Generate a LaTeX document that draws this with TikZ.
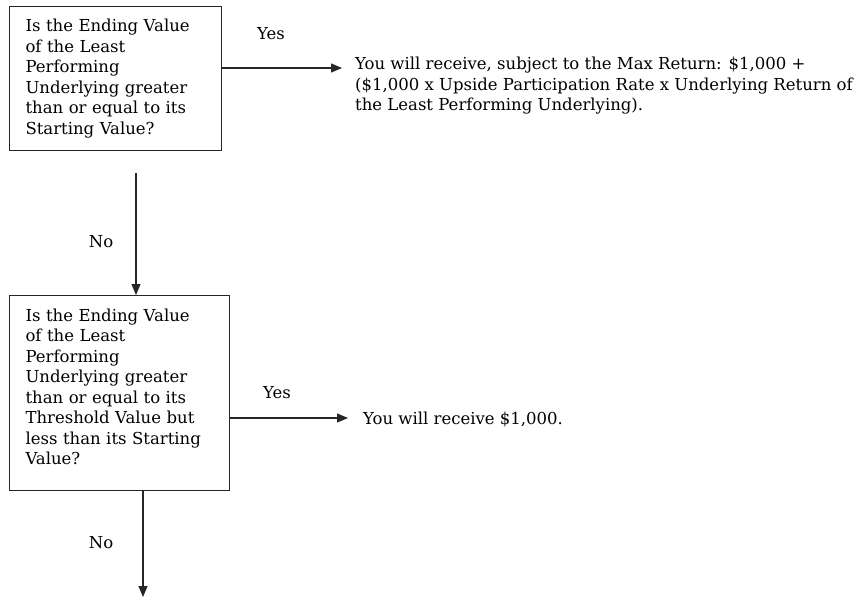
\documentclass[tikz,border=0pt]{standalone}
\usepackage{fontspec}
\setmainfont{DejaVu Serif}
\usetikzlibrary{arrows.meta}

\begin{document}
\begin{tikzpicture}[x=1pt,y=-1pt,
  decision/.style={draw=black!85,line width=1.1pt,rectangle,align=left,anchor=north west,inner xsep=16pt,inner ysep=0pt,font=\fontsize{16.5}{20.5}\selectfont},
  result/.style={anchor=north west,align=left,inner sep=0pt,font=\fontsize{16.5}{20.3}\selectfont},
  answer/.style={font=\fontsize{16.5}{18}\selectfont},
  flow/.style={draw=black!85,line width=1.1pt,-{Triangle[length=11pt,width=9pt]}}]
\useasboundingbox (0,0) rectangle (868,598);
% first question
\node[decision,minimum width=212pt,minimum height=144pt,text width=180pt] (q1) at (9,6)
  {Is the Ending Value\\of the Least\\Performing\\Underlying greater\\than or equal to its\\Starting Value?};
\node[answer] (yes1) at (271,34) {Yes};
\node[result] (r1) at (355,57)
  {You will receive, subject to the Max Return: \$1,000 +\\(\$1,000 x Upside Participation Rate x Underlying Return of\\the Least Performing Underlying).};
\coordinate (t1) at (342,68);
\draw[flow] (q1.east |- t1) -- (t1);
% second question
\node[decision,minimum width=220pt,minimum height=195pt,text width=188pt] (q2) at (9,295)
  {Is the Ending Value\\of the Least\\Performing\\Underlying greater\\than or equal to its\\Threshold Value but\\less than its Starting\\Value?\\[-8pt]\mbox{}};
\coordinate (s2) at (136,173);
\draw[flow] (s2) -- (s2 |- q2.north);
\node[answer] (no1) at (101,242) {No};
\node[answer] (yes2) at (277,393) {Yes};
\node[result] (r2) at (363,412) {You will receive \$1,000.};
\coordinate (t2) at (348,418);
\draw[flow] (q2.east |- t2) -- (t2);
% no branch
\coordinate (e3) at (143,597);
\draw[flow] (q2.south -| e3) -- (e3);
\node[answer] (no2) at (101,543) {No};
\end{tikzpicture}
\end{document}
